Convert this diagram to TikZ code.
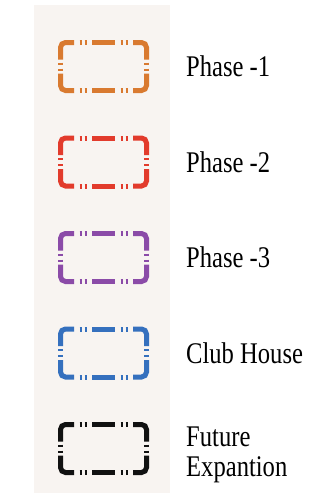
\documentclass[tikz,border=0pt]{standalone}
\usepackage{fontspec}
\setmainfont{Liberation Serif}[FakeStretch=0.82]
\usepackage{tikz}
\definecolor{panelbg}{HTML}{F8F4F1}
\definecolor{phaseone}{HTML}{D97A30}
\definecolor{phasetwo}{HTML}{E23B2C}
\definecolor{phasethree}{HTML}{8B4BA8}
\definecolor{clubhouse}{HTML}{3570BE}
\definecolor{future}{HTML}{111111}
\tikzset{
  panel/.style={fill=panelbg, draw=none},
  boxline/.style={line width=5pt, line cap=butt},
  corner/.style={boxline, rounded corners=5pt},
  legendtext/.style={anchor=west, inner sep=0pt, align=left, font=\fontsize{30}{30}\selectfont}
}

\begin{document}
\begin{tikzpicture}[x=1pt, y=-1pt]
		\useasboundingbox (0,0) rectangle (328,498);
		\fill[white] (0,0) rectangle (328,498);
		\fill[panel] (34,5) rectangle (170,493);
		% legend boxes
		\foreach \n/\y/\c in {1/66.5/phaseone, 2/162/phasetwo, 3/257.5/phasethree, 4/353/clubhouse, 5/448.5/future} {
			\coordinate (box\n) at (103.5,\y);
			\begin{scope}[shift={(box\n)}, color=\c]
				\draw[corner] (-29.5,-24) -| (-43,-7);
				\draw[corner] (29.5,-24) -| (43,-7);
				\draw[corner] (-29.5,24) -| (-43,7);
				\draw[corner] (29.5,24) -| (43,7);
				\draw[boxline] (-11.5,-24) -- (11.5,-24);
				\draw[boxline] (-11.5,24) -- (11.5,24);
				\foreach \x in {-23,-18,18,23} {
					\draw[boxline] (\x-1,-24) -- (\x+1,-24);
					\draw[boxline] (\x-1,24) -- (\x+1,24);
				}
				\foreach \s in {-43,43}
					\foreach \t in {-3,3} \draw[boxline] (\s,\t-1) -- (\s,\t+1);
			\end{scope}
		}
		% labels
		\node[legendtext] (phase1) at (186,66.5) {Phase -1};
		\node[legendtext] (phase2) at (186,162) {Phase -2};
		\node[legendtext] (phase3) at (186,257.5) {Phase -3};
		\node[legendtext] (club) at (186,353) {Club House};
		\node[legendtext] (futureexp) at (186,455) {Future\\Expantion};
	\end{tikzpicture}
\end{document}
